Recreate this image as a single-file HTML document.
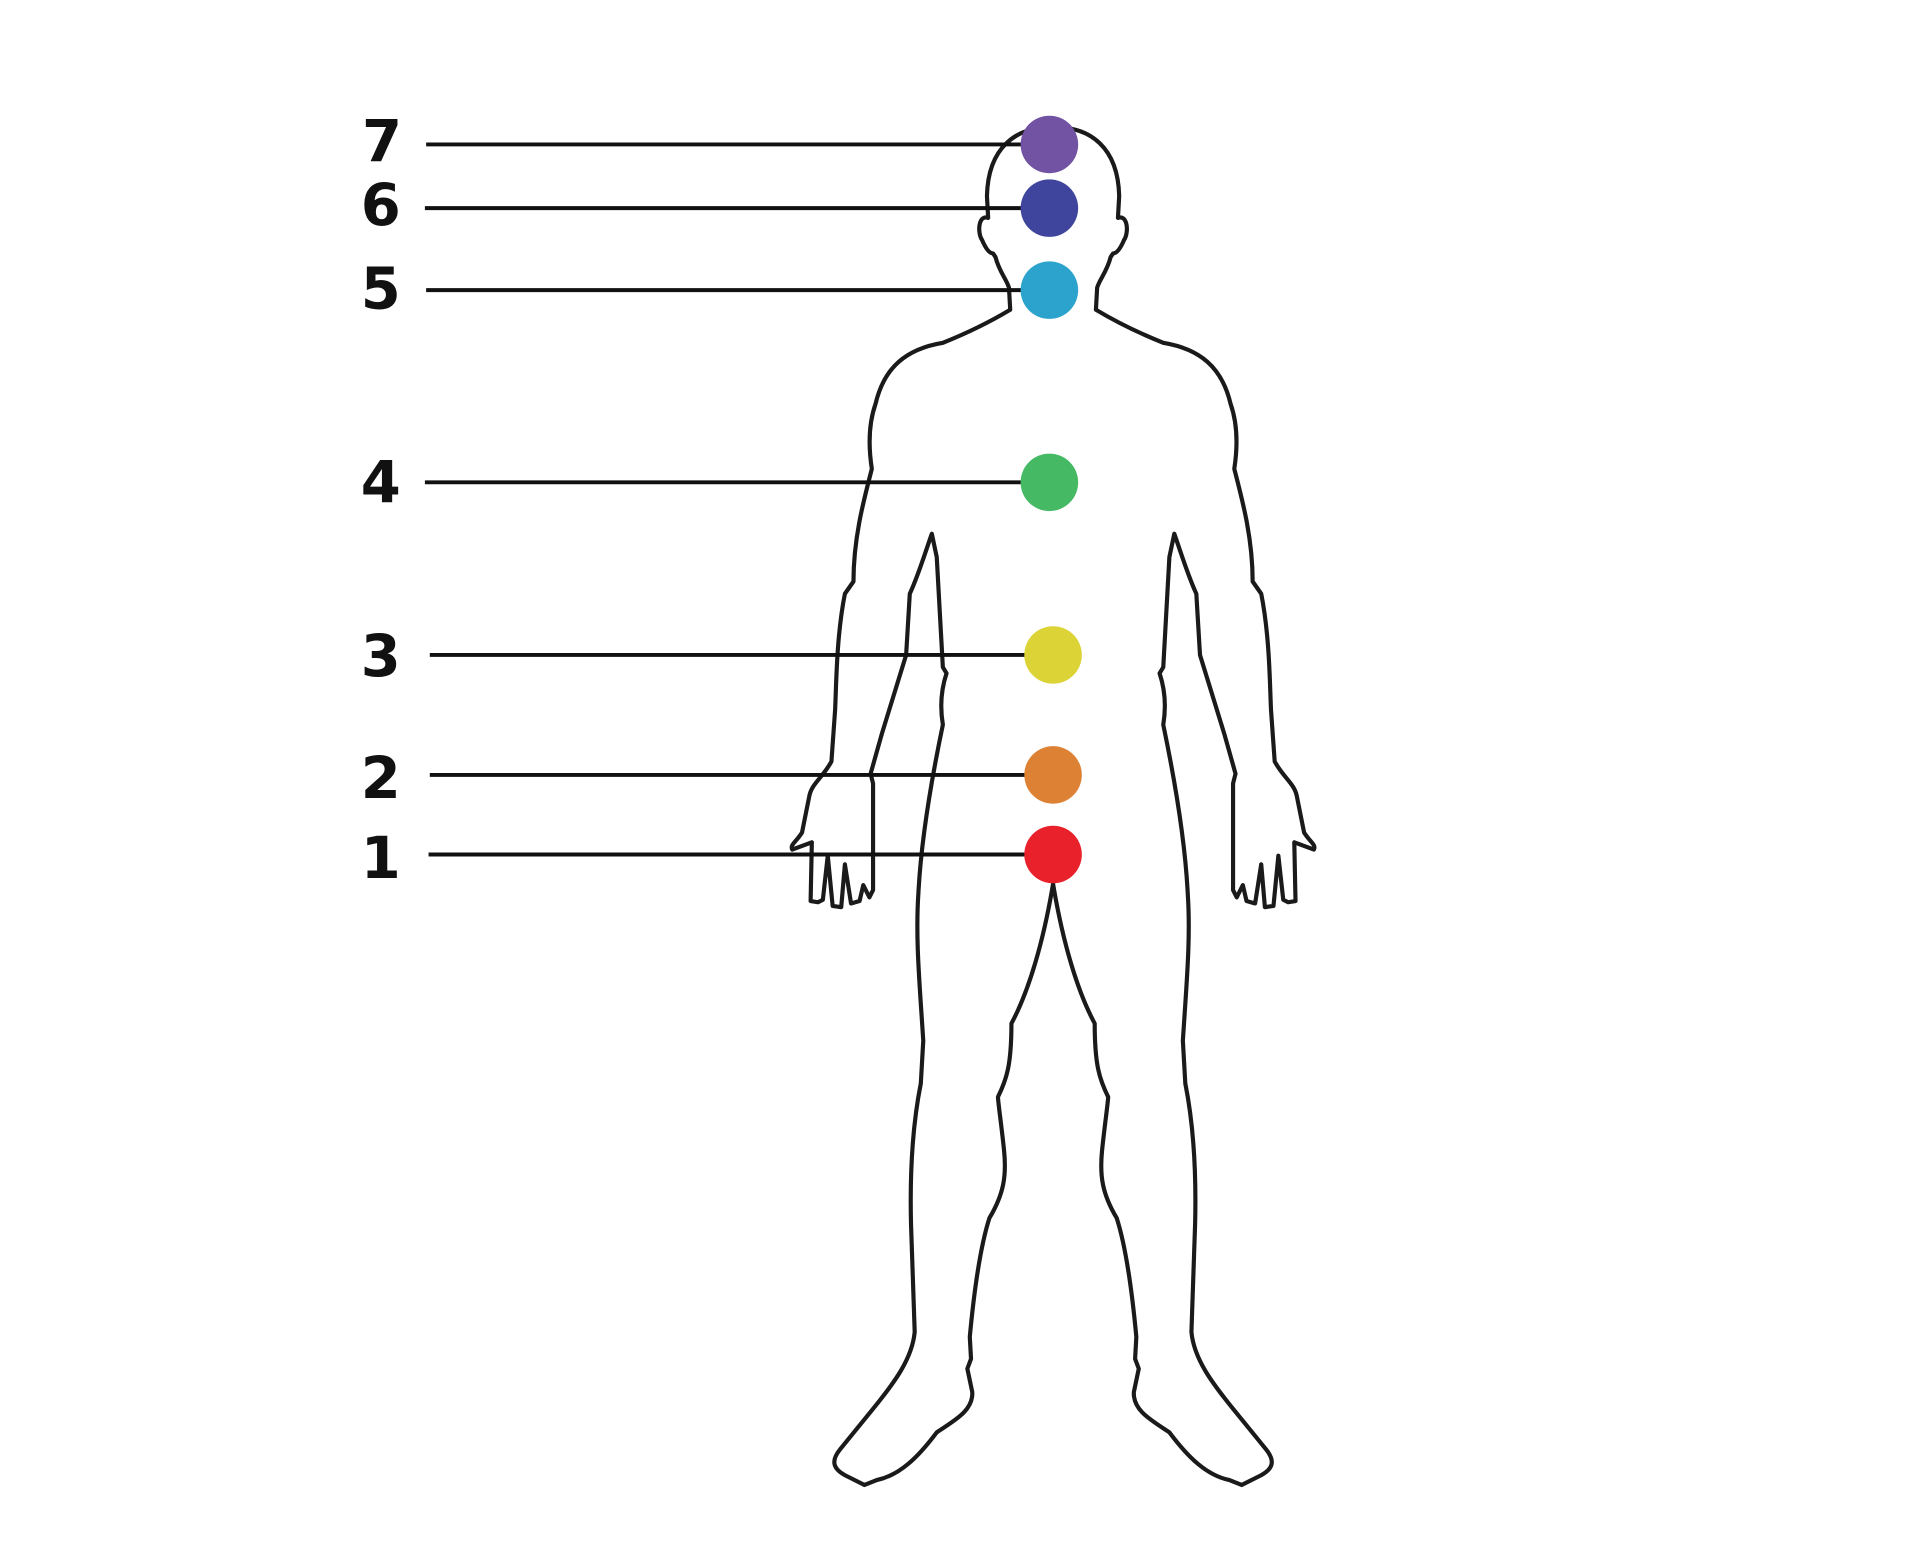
<!DOCTYPE html>
<html><head><meta charset="utf-8"><style>
html,body{margin:0;padding:0;background:#fff;width:1920px;height:1567px;overflow:hidden}
svg{display:block}
</style></head><body>
<svg width="1920" height="1567" viewBox="0 0 1568 1280" preserveAspectRatio="none" xmlns="http://www.w3.org/2000/svg">
<rect width="1568" height="1280" fill="#fff"/>
<g id="half" fill="none" stroke="#1a1a1a" stroke-width="3.4" stroke-linejoin="round" stroke-linecap="round">
<path d="M 858,104 C 830,104 807,120 806,160 L 807,178 C 799,175 798,190 802,196 C 805,203 808,207 811,207 L 813,210 C 816,222 822,228 824,235 L 825,253 C 810,262 790,272 770,280 C 740,285 722,300 715,330 C 708,350 710,370 712,383 C 705,410 697,440 697,475 L 690,485 C 683,520 683,560 682,580 L 679,622 C 672,635 663,640 661,650 L 655,680 C 650,688 645,690 647,694 L 663,688 L 662,736 L 668,737 L 672,735 L 676,699 L 680,740 L 687,741 L 690,706 L 695,738 L 702,736 L 705,723 L 710,733 L 713,727 L 713,640 L 711,632 L 720,600 L 740,535 L 743,485 C 750,470 756,450 761,436 L 765,455 L 770,545 L 773,550 C 768,565 768,580 770,592 C 760,640 752,690 750,730 C 748,760 750,790 752,820 L 754,850 L 752,885 C 745,920 743,960 744,1000 L 747,1088 C 745,1110 730,1130 712,1152 L 686,1184 C 678,1194 681,1200 690,1205 L 706,1213 L 716,1209 C 735,1205 750,1190 765,1170 C 780,1160 795,1152 794,1137 L 790,1118 L 793,1110 L 792,1092 C 795,1060 800,1020 808,995 C 820,975 822,960 820,940 C 818,920 815,900 815,896 C 822,882 826,870 826,836 C 840,810 852,770 860,722"/>
</g>
<use href="#half" transform="matrix(-1 0 0 1 1720 0)"/>
<g stroke="#111" stroke-width="3.2">
<line x1="348" y1="118" x2="845" y2="118"/>
<line x1="347" y1="170" x2="845" y2="170"/>
<line x1="348" y1="237" x2="845" y2="237"/>
<line x1="347" y1="394" x2="845" y2="394"/>
<line x1="351" y1="535" x2="848" y2="535"/>
<line x1="351" y1="633" x2="848" y2="633"/>
<line x1="350" y1="698" x2="848" y2="698"/>
</g>
<circle cx="857" cy="118" r="23.5" fill="#7152a3"/>
<circle cx="857" cy="170" r="23.5" fill="#3f459c"/>
<circle cx="857" cy="237" r="23.5" fill="#2ba3cc"/>
<circle cx="857" cy="394" r="23.5" fill="#46b964"/>
<circle cx="860" cy="535" r="23.5" fill="#dcd337"/>
<circle cx="860" cy="633" r="23.5" fill="#dd8235"/>
<circle cx="860" cy="698" r="23.5" fill="#e8212b"/>
<g font-family="'DejaVu Sans','Liberation Sans',sans-serif" font-weight="bold" font-size="47" fill="#111" text-anchor="middle">
<text x="312" y="132">7</text>
<text x="311" y="184">6</text>
<text x="311" y="252">5</text>
<text x="311" y="410">4</text>
<text x="311" y="552">3</text>
<text x="311" y="652">2</text>
<text x="311" y="717">1</text>
</g>
</svg>
</body></html>
